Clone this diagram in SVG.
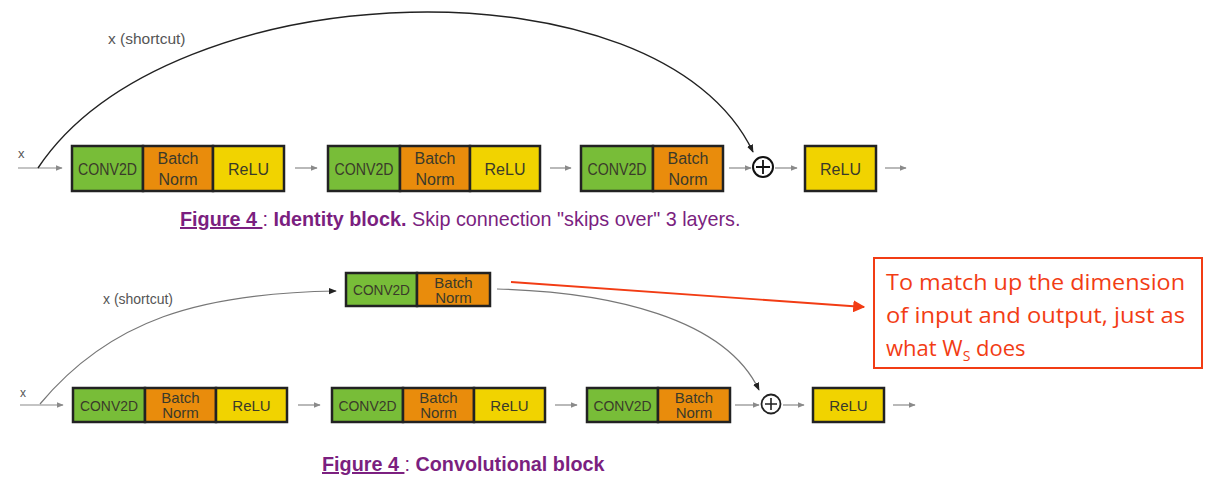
<svg xmlns="http://www.w3.org/2000/svg" width="1211" height="480" viewBox="0 0 1211 480">
<defs>
<style>
.conv{fill:#78bd38;stroke:#222;stroke-width:2.5}
.bn{fill:#e98c0c;stroke:#222;stroke-width:2.5}
.relu{fill:#f1d300;stroke:#222;stroke-width:2.5}
.lbl{font-family:"Liberation Sans",Arial,sans-serif;fill:#3a3a2a;text-anchor:middle}
.t1{font-size:16px}
.t2{font-size:15px}
.t3{font-size:15px}
.ln{fill:none;stroke:#8a8a8a;stroke-width:1.2}
.arc{fill:none;stroke:#222;stroke-width:1.4}
.arc2{fill:none;stroke:#777;stroke-width:1.2}
.cap{font-family:"Liberation Sans",Arial,sans-serif;fill:#7b1f7f;font-size:19.8px}
.note{font-family:"Open Sans","Noto Sans",sans-serif;fill:#f23c14;font-size:22px}
.xl{font-family:"Liberation Sans",Arial,sans-serif;fill:#555}
</style>
<marker id="ag" viewBox="0 0 10 10" refX="9" refY="5" markerWidth="7" markerHeight="7" markerUnits="userSpaceOnUse" orient="auto"><path d="M0,1 L10,5 L0,9 z" fill="#8a8a8a"/></marker>
<marker id="ak" viewBox="0 0 10 10" refX="9" refY="5" markerWidth="8" markerHeight="8" markerUnits="userSpaceOnUse" orient="auto"><path d="M0,1 L10,5 L0,9 z" fill="#222"/></marker>
<marker id="ar" viewBox="0 0 10 10" refX="9" refY="5" markerWidth="12" markerHeight="12" markerUnits="userSpaceOnUse" orient="auto"><path d="M0,0 L10,5 L0,10 z" fill="#f23c14"/></marker>
</defs>
<rect width="1211" height="480" fill="#fff"/>

<g id="connectors">
<path class="ln" d="M18,168 H62" marker-end="url(#ag)"/>
<path class="ln" d="M295,168 H317" marker-end="url(#ag)"/>
<path class="ln" d="M550,168 H571" marker-end="url(#ag)"/>
<path class="ln" d="M729,168 H751" marker-end="url(#ag)"/>
<path class="ln" d="M775,168 H797" marker-end="url(#ag)"/>
<path class="ln" d="M885,168 H906" marker-end="url(#ag)"/>
<path class="arc" d="M38,168 C170,-30 660,-44 753,152" marker-end="url(#ak)"/>
<path class="ln" d="M20,405 H63" marker-end="url(#ag)"/>
<path class="ln" d="M298,405 H320" marker-end="url(#ag)"/>
<path class="ln" d="M555,405 H577" marker-end="url(#ag)"/>
<path class="ln" d="M735,405 H759" marker-end="url(#ag)"/>
<path class="ln" d="M783,405 H804" marker-end="url(#ag)"/>
<path class="ln" d="M893,405 H915" marker-end="url(#ag)"/>
<path class="arc2" d="M40,404 C110,320 200,293 336,291" marker-end="url(#ak)"/>
<path class="arc2" d="M497,289 C610,292 725,318 759,390" marker-end="url(#ak)"/>
<path d="M511,282 L864,307" stroke="#f23c14" stroke-width="1.8" fill="none" marker-end="url(#ar)"/>
</g>

<g id="label-x-top"><text class="xl" x="18" y="158" style="font-size:13px">x</text></g>
<g id="label-shortcut-top"><text class="xl" x="108" y="44" style="font-size:15.5px">x (shortcut)</text></g>

<g id="top-block1">
<rect class="conv" x="72" y="146" width="71" height="45"/>
<rect class="bn" x="143" y="146" width="70" height="45"/>
<rect class="relu" x="213" y="146" width="71" height="45"/>
<text class="lbl t1" x="107.5" y="174.5" textLength="59" lengthAdjust="spacingAndGlyphs">CONV2D</text>
<text class="lbl t1" x="178" y="164">Batch</text>
<text class="lbl t1" x="178" y="185">Norm</text>
<text class="lbl t1" x="248.5" y="174.5">ReLU</text>
</g>
<g id="top-block2">
<rect class="conv" x="328" y="146" width="72" height="45"/>
<rect class="bn" x="400" y="146" width="70" height="45"/>
<rect class="relu" x="470" y="146" width="70" height="45"/>
<text class="lbl t1" x="364" y="174.5" textLength="59" lengthAdjust="spacingAndGlyphs">CONV2D</text>
<text class="lbl t1" x="435" y="164">Batch</text>
<text class="lbl t1" x="435" y="185">Norm</text>
<text class="lbl t1" x="505" y="174.5">ReLU</text>
</g>
<g id="top-block3">
<rect class="conv" x="581" y="146" width="72" height="45"/>
<rect class="bn" x="653" y="146" width="70" height="45"/>
<text class="lbl t1" x="617" y="174.5" textLength="59" lengthAdjust="spacingAndGlyphs">CONV2D</text>
<text class="lbl t1" x="688" y="164">Batch</text>
<text class="lbl t1" x="688" y="185">Norm</text>
</g>
<g id="top-add">
<circle cx="763" cy="167" r="10" fill="#fff" stroke="#111" stroke-width="2"/>
<path d="M756,167 H770 M763,160 V174" stroke="#111" stroke-width="1.8"/>
</g>
<g id="top-relu">
<rect class="relu" x="805" y="146" width="71" height="45"/>
<text class="lbl t1" x="840.5" y="174.5">ReLU</text>
</g>

<g id="caption-top">
<text class="cap" x="180" y="226"><tspan font-weight="bold" text-decoration="underline">Figure 4 </tspan><tspan>: </tspan><tspan font-weight="bold">Identity block.</tspan><tspan> Skip connection "skips over" 3 layers.</tspan></text>
</g>

<g id="label-x-bottom"><text class="xl" x="20" y="397" style="font-size:12px">x</text></g>
<g id="label-shortcut-bottom"><text class="xl" x="103" y="304" style="font-size:14px">x (shortcut)</text></g>

<g id="shortcut-block">
<rect class="conv" x="346" y="273" width="71" height="33"/>
<rect class="bn" x="417" y="273" width="73" height="33"/>
<text class="lbl t3" x="381.5" y="295" textLength="57" lengthAdjust="spacingAndGlyphs">CONV2D</text>
<text class="lbl t3" x="453.5" y="287.5">Batch</text>
<text class="lbl t3" x="453.5" y="302.5">Norm</text>
</g>

<g id="bottom-block1">
<rect class="conv" x="73" y="388" width="72" height="34"/>
<rect class="bn" x="145" y="388" width="71" height="34"/>
<rect class="relu" x="216" y="388" width="71" height="34"/>
<text class="lbl t2" x="109" y="410.5" textLength="58" lengthAdjust="spacingAndGlyphs">CONV2D</text>
<text class="lbl t2" x="180.5" y="403">Batch</text>
<text class="lbl t2" x="180.5" y="418">Norm</text>
<text class="lbl t2" x="251.5" y="410.5">ReLU</text>
</g>
<g id="bottom-block2">
<rect class="conv" x="332" y="388" width="71" height="34"/>
<rect class="bn" x="403" y="388" width="71" height="34"/>
<rect class="relu" x="474" y="388" width="71" height="34"/>
<text class="lbl t2" x="367.5" y="410.5" textLength="58" lengthAdjust="spacingAndGlyphs">CONV2D</text>
<text class="lbl t2" x="438.5" y="403">Batch</text>
<text class="lbl t2" x="438.5" y="418">Norm</text>
<text class="lbl t2" x="509.5" y="410.5">ReLU</text>
</g>
<g id="bottom-block3">
<rect class="conv" x="587" y="388" width="71" height="34"/>
<rect class="bn" x="658" y="388" width="72" height="34"/>
<text class="lbl t2" x="622.5" y="410.5" textLength="58" lengthAdjust="spacingAndGlyphs">CONV2D</text>
<text class="lbl t2" x="694" y="403">Batch</text>
<text class="lbl t2" x="694" y="418">Norm</text>
</g>
<g id="bottom-add">
<circle cx="771" cy="404" r="9.5" fill="#fff" stroke="#222" stroke-width="1.8"/>
<path d="M765,404 H777 M771,398 V410" stroke="#222" stroke-width="1.6"/>
</g>
<g id="bottom-relu">
<rect class="relu" x="813" y="388" width="71" height="34"/>
<text class="lbl t2" x="848.5" y="410.5">ReLU</text>
</g>

<g id="caption-bottom">
<text class="cap" x="322" y="471"><tspan font-weight="bold" text-decoration="underline">Figure 4 </tspan><tspan>: </tspan><tspan font-weight="bold">Convolutional block</tspan></text>
</g>

<g id="note">
<rect x="874" y="258" width="328" height="110" fill="#fff" stroke="#f23c14" stroke-width="2"/>
<text class="note" x="886" y="290" textLength="299" lengthAdjust="spacingAndGlyphs">To match up the dimension</text>
<text class="note" x="886" y="323" textLength="299" lengthAdjust="spacingAndGlyphs">of input and output, just as</text>
<text class="note" x="886" y="356">what W<tspan font-size="14" dy="5">S</tspan><tspan dy="-5"> does</tspan></text>
</g>
</svg>
